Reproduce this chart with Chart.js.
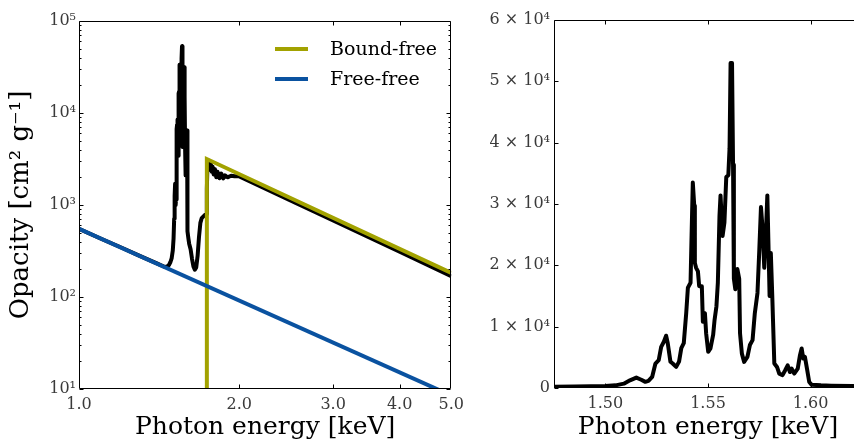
<!DOCTYPE html>
<html>
<head>
<meta charset="utf-8">
<script src="https://cdn.jsdelivr.net/npm/chart.js@4/dist/chart.umd.min.js"></script>
<style>
  body { margin: 0; background: #fff; overflow: hidden; width: 854px; height: 444px; position: relative; }
  #boxL { position: absolute; left: 0; top: 0; }
  #boxR { position: absolute; left: 470px; top: 0; }
</style>
</head>
<body>
<div id="boxL"><canvas id="spectrumLog" width="470" height="444"></canvas></div>
<div id="boxR"><canvas id="spectrumLin" width="400" height="444"></canvas></div>
<script>
// total opacity (keV, cm^2/g)
const energyKeV = [
  1.00, 1.10, 1.20, 1.30, 1.40, 1.45, 1.465, 1.475, 1.485, 1.493,
  1.500, 1.505, 1.509, 1.512, 1.5151, 1.5175, 1.5195, 1.521, 1.5228, 1.5244,
  1.526, 1.5272, 1.5285, 1.5296, 1.5304, 1.5317, 1.5328, 1.5345, 1.5359, 1.537,
  1.5382, 1.5394, 1.5402, 1.5415, 1.542, 1.5426, 1.5433, 1.5436, 1.5442, 1.5451,
  1.5457, 1.547, 1.5475, 1.5485, 1.5491, 1.5501, 1.5512, 1.5525, 1.5532, 1.5541,
  1.5548, 1.5556, 1.5561, 1.5571, 1.558, 1.5589, 1.5599, 1.5605, 1.561, 1.5617,
  1.5622, 1.5626, 1.5633, 1.5643, 1.5652, 1.5656, 1.5665, 1.5676, 1.5692, 1.5704,
  1.5717, 1.5728, 1.5741, 1.575, 1.5758, 1.5766, 1.5774, 1.5782, 1.5789, 1.5795,
  1.580, 1.5806, 1.5813, 1.5823, 1.5836, 1.5847, 1.5863, 1.5876, 1.5888, 1.5899,
  1.5907, 1.592, 1.5937, 1.5948, 1.5956, 1.5964, 1.5972, 1.5982, 1.5993, 1.6005,
  1.605, 1.610, 1.620, 1.630, 1.640, 1.650, 1.660, 1.670, 1.680, 1.690,
  1.700, 1.720, 1.735, 1.738, 1.742, 1.748, 1.755, 1.762, 1.768, 1.775,
  1.782, 1.790, 1.800, 1.810, 1.820, 1.835, 1.850, 1.865, 1.880, 1.900,
  1.930, 1.960, 2.000, 2.500, 3.000, 4.000, 5.000
];
const opacityTotal = [
  550, 430, 345, 280, 232, 212, 215, 222, 240, 265,
  320, 430, 710, 1250, 1700, 1350, 1000, 1150, 1800, 3990,
  4540, 6700, 7540, 8520, 7300, 4300, 4000, 3440, 4300, 6500,
  7300, 12240, 16340, 17160, 24800, 33500, 29700, 20400, 19600, 19000,
  16600, 16600, 10800, 12200, 8900, 5900, 6450, 8650, 11100, 13300,
  17200, 28100, 31400, 24800, 27000, 34400, 34700, 39100, 53000, 53000,
  36400, 17800, 16100, 19400, 17800, 8900, 5600, 4260, 5080, 7000,
  7800, 12200, 15500, 22600, 29500, 25900, 19600, 25300, 31400, 22600,
  15000, 22000, 15000, 4000, 3440, 2350, 2100, 2900, 3700, 2600,
  3170, 2350, 3170, 5350, 6450, 4800, 5080, 3170, 980, 520,
  430, 380, 330, 260, 215, 198, 210, 280, 450, 640,
  720, 770, 800, 1500, 2600, 3050, 2900, 2400, 2800, 2300,
  2600, 2150, 2450, 2000, 2300, 1950, 2200, 1950, 2100, 2000,
  2080, 2050, 2050, 1115, 680, 310, 168
];

// bound-free component: edge then power-law tail
const bfEnergy = [1.738, 1.738, 5.0];
const bfOpacity = [1, 3160, 183];

// free-free component
const ffEnergy = [1.0, 5.0];
const ffOpacity = [550, 8.5];

const xTicksLog = [1, 2, 3, 4, 5];
const yTicksLog = [1e1, 1e2, 1e3, 1e4, 1e5];
const xTicksLin = [1.50, 1.55, 1.60];
const yTicksLin = [0, 1e4, 2e4, 3e4, 4e4, 5e4, 6e4];

const OLIVE = '#a2a200';
const BLUE = '#0a52a0';
const SERIF = '"DejaVu Serif", "Liberation Serif", serif';
const SUP = { '0': '⁰', '1': '¹', '2': '²', '3': '³', '4': '⁴', '5': '⁵', '6': '⁶', '7': '⁷', '8': '⁸', '9': '⁹' };
const sup = n => String(n).split('').map(c => SUP[c]).join('');

const pairs = (xs, ys) => xs.map((x, i) => ({ x: x, y: ys[i] }));

// inward tick marks on all four sides plus the full frame
const frameTicks = {
  id: 'frameTicks',
  afterDatasetsDraw(chart, args, opts) {
    const { ctx, chartArea: a, scales } = chart;
    const sx = scales.x, sy = scales.y;
    ctx.save();
    ctx.strokeStyle = '#000';
    ctx.lineWidth = 1;
    ctx.beginPath();
    const L = Math.round(a.left) + 0.5, R = Math.round(a.right) - 0.5;
    const T = Math.round(a.top) + 0.5, B = Math.round(a.bottom) - 0.5;
    ctx.rect(L, T, R - L, B - T);
    (opts.xMajor || []).forEach(v => {
      const px = Math.round(sx.getPixelForValue(v)) + 0.5;
      ctx.moveTo(px, B); ctx.lineTo(px, B - 4);
      ctx.moveTo(px, T); ctx.lineTo(px, T + 4);
    });
    const yMark = (v, len) => {
      const py = Math.round(sy.getPixelForValue(v)) + 0.5;
      ctx.moveTo(L, py); ctx.lineTo(L + len, py);
      ctx.moveTo(R, py); ctx.lineTo(R - len, py);
    };
    (opts.yMajor || []).forEach(v => yMark(v, 4));
    (opts.yMinor || []).forEach(v => yMark(v, 2));
    ctx.stroke();
    ctx.restore();
  }
};

// legend drawn inside the plot area
const innerLegend = {
  id: 'innerLegend',
  afterDraw(chart, args, opts) {
    if (!opts.items) return;
    const ctx = chart.ctx;
    ctx.save();
    ctx.font = '19px ' + SERIF;
    ctx.textBaseline = 'middle';
    opts.items.forEach((it, i) => {
      const y = 49 + i * 30;
      ctx.strokeStyle = it.color;
      ctx.lineWidth = 4;
      ctx.beginPath();
      ctx.moveTo(275, y); ctx.lineTo(308, y);
      ctx.stroke();
      ctx.fillStyle = '#000';
      ctx.fillText(it.label, 330, y + 1);
    });
    ctx.restore();
  }
};
Chart.register(frameTicks, innerLegend);

const tickFont = { family: SERIF, size: 16 };
const titleFont = { family: SERIF, size: 25 };
const TICK_COLOR = '#3a3a3a';

const yMinorLog = [];
for (let d = 10; d < 1e5; d *= 10) {
  for (let k = 2; k <= 9; k++) yMinorLog.push(k * d);
}

new Chart(document.getElementById('spectrumLog'), {
  type: 'scatter',
  data: {
    datasets: [
      { label: 'Free-free', data: pairs(ffEnergy, ffOpacity), showLine: true, borderColor: BLUE, borderWidth: 4, pointRadius: 0 },
      { label: 'Bound-free', data: pairs(bfEnergy, bfOpacity), showLine: true, borderColor: OLIVE, borderWidth: 4, pointRadius: 0 },
      { label: 'Total', data: pairs(energyKeV, opacityTotal), showLine: true, borderColor: '#000', borderWidth: 4, pointRadius: 0, borderJoinStyle: 'round' }
    ]
  },
  options: {
    responsive: false,
    animation: false,
    layout: { padding: { left: 0, right: 12, top: 21, bottom: 0 } },
    plugins: {
      legend: { display: false },
      tooltip: { enabled: false },
      frameTicks: { xMajor: [2, 3, 4], yMajor: yTicksLog, yMinor: yMinorLog },
      innerLegend: { items: [{ label: 'Bound-free', color: OLIVE }, { label: 'Free-free', color: BLUE }] }
    },
    scales: {
      x: {
        type: 'logarithmic', min: 1, max: 5,
        afterBuildTicks: s => { s.ticks = xTicksLog.map(v => ({ value: v })); },
        afterFit: s => { s.height = 55; },
        grid: { display: false, drawTicks: false },
        border: { display: false },
        ticks: { autoSkip: false, maxRotation: 0, padding: 6, font: tickFont, color: TICK_COLOR, callback: v => Number(v).toFixed(1) },
        title: { display: true, text: 'Photon energy [keV]', font: titleFont, color: '#000', padding: { top: 0, bottom: 2 } }
      },
      y: {
        type: 'logarithmic', min: 10, max: 1e5,
        afterBuildTicks: s => { s.ticks = yTicksLog.map(v => ({ value: v })); },
        afterFit: s => { s.width = 79; },
        grid: { display: false, drawTicks: false },
        border: { display: false },
        ticks: { autoSkip: false, padding: 3, font: tickFont, color: TICK_COLOR, callback: v => '10' + sup(Math.round(Math.log10(v))) },
        title: { display: true, text: 'Opacity [cm² g⁻¹]', font: { family: SERIF, size: 26 }, color: '#000', padding: { top: 6, bottom: 0 } }
      }
    }
  }
});

new Chart(document.getElementById('spectrumLin'), {
  type: 'scatter',
  data: {
    datasets: [
      { label: 'Total', data: pairs(energyKeV, opacityTotal), showLine: true, borderColor: '#000', borderWidth: 4, pointRadius: 0, borderJoinStyle: 'round' }
    ]
  },
  options: {
    responsive: false,
    animation: false,
    layout: { padding: { left: 0, right: 8, top: 20, bottom: 0 } },
    plugins: {
      legend: { display: false },
      tooltip: { enabled: false },
      frameTicks: { xMajor: xTicksLin, yMajor: yTicksLin }
    },
    scales: {
      x: {
        type: 'linear', min: 1.475, max: 1.625,
        afterBuildTicks: s => { s.ticks = xTicksLin.map(v => ({ value: v })); },
        afterFit: s => { s.height = 56; },
        grid: { display: false, drawTicks: false },
        border: { display: false },
        ticks: { autoSkip: false, maxRotation: 0, padding: 6, font: tickFont, color: TICK_COLOR, callback: v => Number(v).toFixed(2) },
        title: { display: true, text: 'Photon energy [keV]', font: titleFont, color: '#000', padding: { top: 0, bottom: 2 } }
      },
      y: {
        type: 'linear', min: 0, max: 6e4,
        afterBuildTicks: s => { s.ticks = yTicksLin.map(v => ({ value: v })); },
        afterFit: s => { s.width = 84; },
        grid: { display: false, drawTicks: false },
        border: { display: false },
        ticks: { autoSkip: false, padding: 4, font: tickFont, color: TICK_COLOR, callback: v => v === 0 ? '0' : (v / 1e4) + ' × 10' + sup(4) }
      }
    }
  }
});
</script>
</body>
</html>
